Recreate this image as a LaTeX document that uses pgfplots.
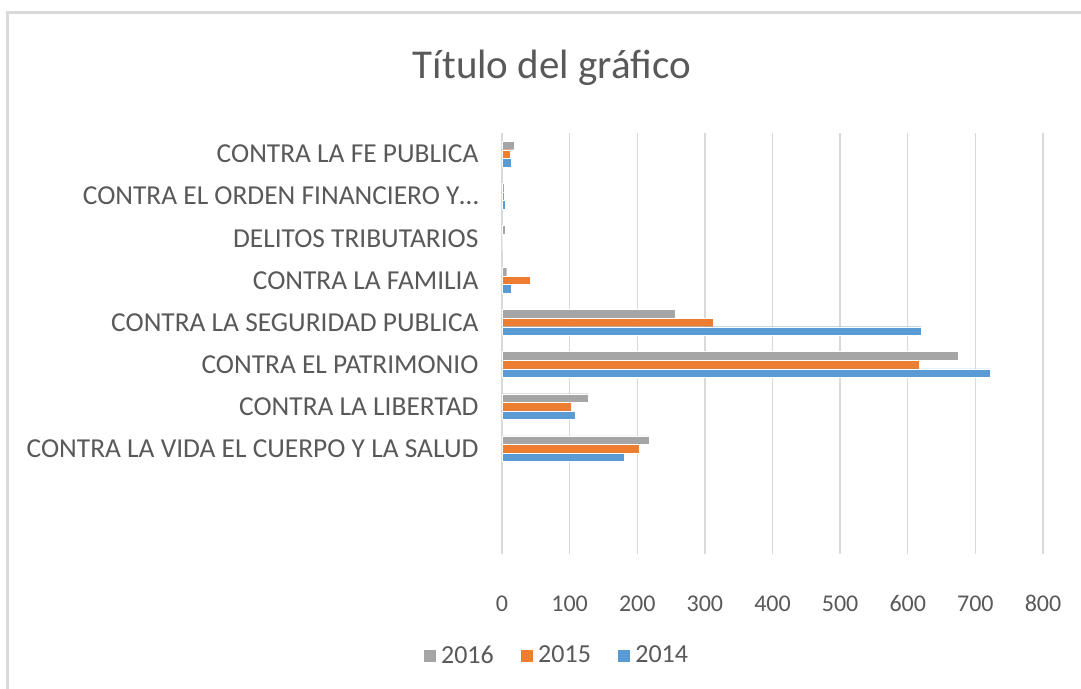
\documentclass[border=0pt]{standalone}
\usepackage{pgfplots}
\pgfplotsset{compat=1.18}
\usepackage{fontspec}
\setmainfont{Carlito}
\definecolor{s16}{HTML}{A5A5A5}
\definecolor{s15}{HTML}{ED7D31}
\definecolor{s14}{HTML}{5B9BD5}
\definecolor{txt}{HTML}{595959}
\definecolor{gridc}{HTML}{D9D9D9}
\begin{document}
\begin{tikzpicture}[x=1pt,y=1pt]
\useasboundingbox (0,0) rectangle (1081,688);
\draw[color=gridc, line width=3pt] (7.5,-5) -- (7.5,675.5) -- (1090,675.5);
\node[text=txt, font=\fontsize{41}{46}\selectfont] at (552,620) {Título del gráfico};
\begin{axis}[
  at={(502pt,134pt)}, anchor=south west,
  width=541pt, height=421pt, scale only axis,
  xbar=0pt, bar width=8.6pt,
  xmin=0, xmax=800, ymin=-0.5, ymax=9.5,
  xtick={0,100,...,800},
  ytick={2,...,9},
  yticklabels={CONTRA LA VIDA EL CUERPO Y LA SALUD, CONTRA LA LIBERTAD, CONTRA EL PATRIMONIO, CONTRA LA SEGURIDAD PUBLICA, CONTRA LA FAMILIA, DELITOS TRIBUTARIOS, CONTRA EL ORDEN FINANCIERO Y…, CONTRA LA FE PUBLICA},
  major tick length=0pt,
  axis line style={draw=none},
  xmajorgrids, grid style={gridc, line width=1.3pt},
  xticklabel style={text=txt, font=\fontsize{24}{28}\selectfont, yshift=-38pt},
  yticklabel style={text=txt, font=\fontsize{27.4}{30}\selectfont, xshift=-20pt},
  /pgf/number format/assume math mode=true,
  legend columns=3,
  legend style={at={(0.1005,-0.24)}, anchor=center, draw=none, fill=none,
    font=\fontsize{26}{30}\selectfont, text=txt,
    /tikz/every odd column/.append style={column sep=3pt},
    /tikz/every even column/.append style={column sep=24pt}},
  legend image code/.code={\fill[#1] (0pt,-7pt) rectangle (13pt,6pt);},
]
\addplot[fill=s16, draw=white, line width=0.4pt, bar shift=8.6pt] coordinates {(218,2) (128,3) (674,4) (256,5) (7,6) (5,7) (3,8) (18,9)};
\addplot[fill=s15, draw=white, line width=0.4pt, bar shift=0pt] coordinates {(203,2) (102,3) (617,4) (313,5) (42,6) (0,7) (3.5,8) (12,9)};
\addplot[fill=s14, draw=white, line width=0.4pt, bar shift=-8.6pt] coordinates {(181,2) (108,3) (722,4) (620,5) (14,6) (0,7) (5,8) (14,9)};
\legend{2016,2015,2014}
\end{axis}
\end{tikzpicture}
\end{document}
